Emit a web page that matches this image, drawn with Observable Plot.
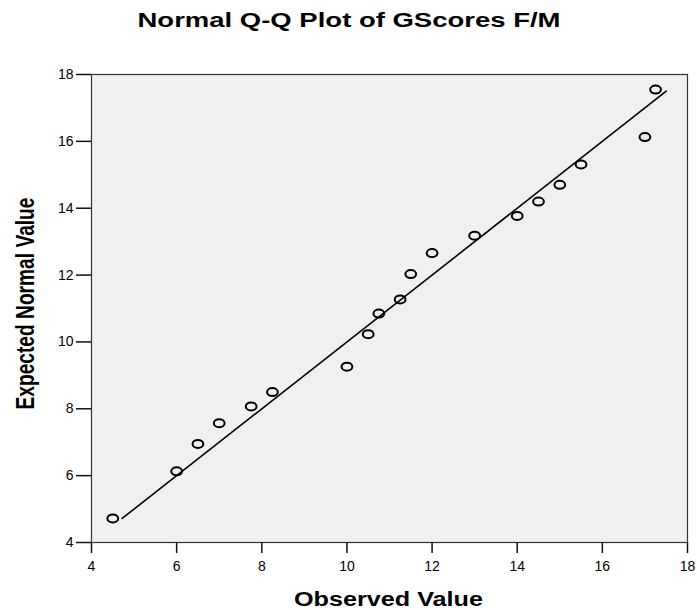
<!DOCTYPE html>
<html>
<head>
<meta charset="utf-8">
<script src="https://cdn.jsdelivr.net/npm/d3@7"></script>
<script src="https://cdn.jsdelivr.net/npm/@observablehq/plot@0.6"></script>
<style>
  html, body { margin: 0; padding: 0; background: #fff; }
  #chart svg { display: block; font-family: "Liberation Sans", Arial, sans-serif; }
</style>
</head>
<body>
<div id="chart"></div>
<script>
// Observed values (x) and expected normal values (y)
const observed = [4.5, 6, 6.5, 7, 7.75, 8.25, 10, 10.5, 10.75, 11.25, 11.5, 12, 13, 14, 14.5, 15, 15.5, 17, 17.25];
const expected = [4.72, 6.13, 6.95, 7.57, 8.07, 8.50, 9.26, 10.23, 10.85, 11.27, 12.03, 12.66, 13.18, 13.77, 14.2, 14.7, 15.31, 16.13, 17.55];
// Reference line endpoints (expected = observed)
const lineX = [4.72, 17.5];
const lineY = [4.72, 17.5];
// Tick labels
const xTicks = [4, 6, 8, 10, 12, 14, 16, 18];
const yTicks = [4, 6, 8, 10, 12, 14, 16, 18];
const titleText = "Normal Q-Q Plot of GScores F/M";
const xLabel = "Observed Value";
const yLabel = "Expected Normal Value";

const points = observed.map((v, i) => ({x: v, y: expected[i]}));
const line = lineX.map((v, i) => ({x: v, y: lineY[i]}));

// Slightly wide ellipse symbol (reference is horizontally stretched)
const ellipse = {
  draw(context, size) {
    const r = Math.sqrt(size / Math.PI);
    const rx = r * 1.35, ry = r, k = 0.5523;
    context.moveTo(rx, 0);
    context.bezierCurveTo(rx, k * ry, k * rx, ry, 0, ry);
    context.bezierCurveTo(-k * rx, ry, -rx, k * ry, -rx, 0);
    context.bezierCurveTo(-rx, -k * ry, -k * rx, -ry, 0, -ry);
    context.bezierCurveTo(k * rx, -ry, rx, -k * ry, rx, 0);
    context.closePath();
  }
};

const chart = Plot.plot({
  width: 697,
  height: 610,
  marginLeft: 91,
  marginRight: 10,
  marginTop: 74,
  marginBottom: 68,
  style: {fontFamily: "'Liberation Sans', Arial, sans-serif", fontSize: "14px", color: "#000", background: "#fff"},
  x: {domain: [4, 18]},
  y: {domain: [4, 18]},
  marks: [
    Plot.frame({fill: "#f0f0f0", stroke: "#333", strokeWidth: 1.2}),
    Plot.axisX({ticks: xTicks, tickSize: 11, tickPadding: 8, strokeWidth: 1.5, stroke: "#111", fontSize: 14, label: null}),
    Plot.axisY({ticks: yTicks, tickSize: 15, tickPadding: 3, strokeWidth: 1.5, stroke: "#111", fontSize: 14, label: null}),
    Plot.line(line, {x: "x", y: "y", stroke: "#000", strokeWidth: 1.6}),
    Plot.dot(points, {x: "x", y: "y", r: 4, symbol: ellipse, stroke: "#000", strokeWidth: 2, fill: "none"}),
    Plot.text([titleText], {className: "qq-title", frameAnchor: "top", textAnchor: "middle", lineAnchor: "middle", dx: -40.5, dy: -54.5, text: d => d, fontWeight: "bold", fontSize: 21, fill: "#000"}),
    Plot.text([xLabel], {className: "qq-xlabel", frameAnchor: "bottom", textAnchor: "middle", lineAnchor: "middle", dx: -1, dy: 57.5, text: d => d, fontWeight: "bold", fontSize: 20, fill: "#000"}),
    Plot.text([yLabel], {className: "qq-ylabel", frameAnchor: "left", textAnchor: "middle", lineAnchor: "middle", dx: -66, dy: -5, rotate: -90, text: d => d, fontWeight: "bold", fontSize: 25, fill: "#000"})
  ]
});

// Stretch/compress labels to match the reference's aspect
const sel = d3.select(chart);
sel.selectAll("g.qq-title text").attr("textLength", 423).attr("lengthAdjust", "spacingAndGlyphs");
sel.selectAll("g.qq-xlabel text").attr("textLength", 189).attr("lengthAdjust", "spacingAndGlyphs");
sel.selectAll("g.qq-ylabel text").attr("textLength", 212).attr("lengthAdjust", "spacingAndGlyphs");

document.getElementById("chart").appendChild(chart);
</script>
</body>
</html>
